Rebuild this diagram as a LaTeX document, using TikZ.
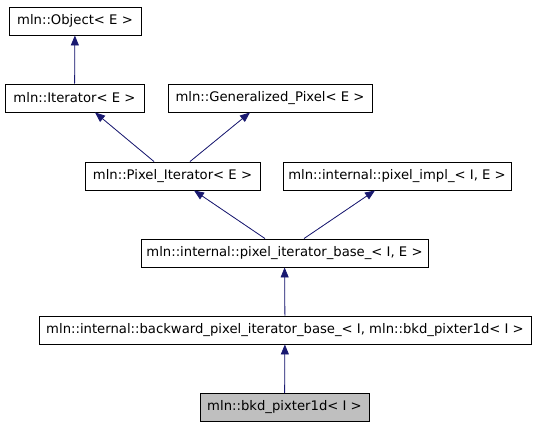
\documentclass[tikz,border=0pt]{standalone}
\usepackage{fontspec}
\setmainfont{DejaVu Sans}
\usepackage{xcolor}
\usetikzlibrary{positioning,arrows.meta,calc}

\definecolor{edgeblue}{HTML}{191970}
\definecolor{leafgray}{HTML}{BFBFBF}

\begin{document}
\begin{tikzpicture}[x=1pt,y=-1pt,
    cls/.style={draw=black, fill=white, line width=0.9pt, minimum height=28pt, inner sep=0pt,
        font=\fontsize{13.2}{15}\selectfont},
    leaf/.style={cls, fill=leafgray},
    inh/.style={draw=edgeblue, line width=0.8pt, -{Triangle[length=10pt,width=8pt]}, fill=edgeblue}]
            % Fix the page to the size of the picture
            \useasboundingbox (0,0) rectangle (535,427);

            % Draw the classes, top to bottom
            \node[cls, minimum width=132pt] (obj) at (75,21) {mln::Object< E >};
            \node[cls, minimum width=139pt] (iter) at (74.5,98) {mln::Iterator< E >};
            \node[cls, minimum width=204pt] (genpix) at (270,98) {mln::Generalized\_Pixel< E >};
            \node[cls, minimum width=175pt] (pixiter) at (172.5,176) {mln::Pixel\_Iterator< E >};
            \node[cls, minimum width=228pt] (pimpl) at (397,176) {mln::internal::pixel\_impl\_< I, E >};
            \node[cls, minimum width=287pt] (pibase) at (284.5,253) {mln::internal::pixel\_iterator\_base\_< I, E >};
            \node[cls, minimum width=492pt] (bwbase) at (285,330) {mln::internal::backward\_pixel\_iterator\_base\_< I, mln::bkd\_pixter1d< I >};
            \node[leaf, minimum width=169pt] (bkd) at (284.5,407.5) {mln::bkd\_pixter1d< I >};

            % Draw the inheritance arrows
            \draw[inh] (iter) -- (obj);
            \draw[inh] ([xshift=-18.5pt]pixiter.north) -- ([xshift=20.5pt]iter.south);
            \draw[inh] ([xshift=17.5pt]pixiter.north) -- ([xshift=-20pt]genpix.south);
            \draw[inh] ([xshift=-19.5pt]pibase.north) -- ([xshift=21.5pt]pixiter.south);
            \draw[inh] ([xshift=19.5pt]pibase.north) -- ([xshift=-22pt]pimpl.south);
            \draw[inh] (bwbase) -- (pibase);
            \draw[inh] (bkd) -- (bwbase);
        \end{tikzpicture}
\end{document}
